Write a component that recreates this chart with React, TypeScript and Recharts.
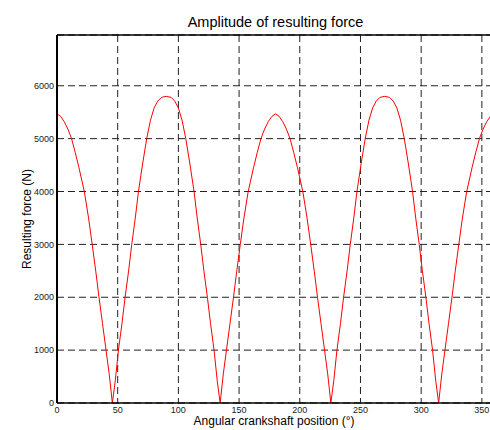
import React from "react";
import { LineChart, Line, XAxis, YAxis, CartesianGrid, ReferenceLine } from "recharts";

// Crankshaft angle (degrees)
const angles = [
  0, 3, 6, 9, 12, 15, 18, 22.5, 26, 29, 32, 34.6, 37.5, 40.4, 43, 45.6, 48, 50.6, 53.5, 56.1,
  59, 61.6, 64.5, 67.1, 70.5, 73.9, 77, 80, 83, 86, 90,
  94, 97, 100, 103, 106.1, 109.5, 112.9, 115.5, 118.4, 121, 123.9, 126.5, 129.4, 132, 134.4,
  137, 139.6, 142.5, 145.4, 148, 151, 154, 157.5, 162, 165, 168, 171, 174, 177, 180,
  183, 186, 189, 192, 195, 198, 202.5, 206, 209, 212, 214.6, 217.5, 220.4, 223, 225.6, 228,
  230.6, 233.5, 236.1, 239, 241.6, 244.5, 247.1, 250.5, 253.9, 257, 260, 263, 266, 270,
  274, 277, 280, 283, 286.1, 289.5, 292.9, 295.5, 298.4, 301, 303.9, 306.5, 309.4, 312, 314.4,
  317, 319.6, 322.5, 325.4, 328, 331, 334, 337.5, 342, 345, 348, 351, 354, 357, 360,
];

// Resulting force (N)
const forces = [
  5470, 5420, 5320, 5180, 5000, 4740, 4460, 4000, 3500, 3000, 2480, 2000, 1500, 1000, 550, 0, 420, 1000, 1500, 2000,
  2500, 3000, 3500, 4000, 4520, 5000, 5350, 5580, 5710, 5780, 5800,
  5780, 5710, 5580, 5350, 5000, 4520, 4000, 3500, 3000, 2500, 2000, 1500, 1000, 420, 0,
  550, 1000, 1500, 2000, 2480, 3000, 3500, 4000, 4460, 4740, 5000, 5180, 5320, 5420, 5470,
  5420, 5320, 5180, 5000, 4740, 4460, 4000, 3500, 3000, 2480, 2000, 1500, 1000, 550, 0, 420,
  1000, 1500, 2000, 2500, 3000, 3500, 4000, 4520, 5000, 5350, 5580, 5710, 5780, 5800,
  5780, 5710, 5580, 5350, 5000, 4520, 4000, 3500, 3000, 2500, 2000, 1500, 1000, 420, 0,
  550, 1000, 1500, 2000, 2480, 3000, 3500, 4000, 4460, 4740, 5000, 5180, 5320, 5420, 5470,
];

const xTicks = [0, 50, 100, 150, 200, 250, 300, 350];
const yTicks = [0, 1000, 2000, 3000, 4000, 5000, 6000];

const title = "Amplitude of resulting force";
const xLabel = "Angular crankshaft position (°)";
const yLabel = "Resulting force (N)";

const data = angles.map((a, i) => ({ angle: a, force: forces[i] }));

const FONT = "'Liberation Sans', Arial, Helvetica, sans-serif";
const Y_MAX = 6960;

export default function App() {
  const tickStyle = { fontSize: 9, fill: "#222", fontFamily: FONT };
  return (
    <div
      style={{
        position: "absolute",
        left: 0,
        top: 0,
        width: 490,
        height: 430,
        overflow: "hidden",
        background: "#fff",
      }}
    >
      <LineChart
        width={510}
        height={430}
        data={data}
        margin={{ top: 35, right: 16, left: 0, bottom: 0 }}
      >
        <CartesianGrid stroke="#222" strokeDasharray="7 4" strokeWidth={1} />
        <XAxis
          dataKey="angle"
          type="number"
          domain={[0, 360]}
          ticks={xTicks}
          interval={0}
          allowDataOverflow
          height={27}
          tickLine={false}
          tickSize={0}
          tickMargin={4}
          axisLine={{ stroke: "#000", strokeWidth: 1.5 }}
          tick={tickStyle}
        />
        <YAxis
          type="number"
          domain={[0, Y_MAX]}
          ticks={yTicks}
          interval={0}
          allowDataOverflow
          width={57}
          tickLine={false}
          tickSize={0}
          tickMargin={3}
          axisLine={{ stroke: "#000", strokeWidth: 2 }}
          tick={tickStyle}
        />
        <ReferenceLine y={Y_MAX} stroke="#000" strokeWidth={1.5} />
        <Line
          type="linear"
          dataKey="force"
          stroke="#ff0000"
          strokeWidth={1}
          dot={false}
          isAnimationActive={false}
        />
      </LineChart>
      <svg
        width={490}
        height={430}
        style={{ position: "absolute", left: 0, top: 0, pointerEvents: "none" }}
      >
        <text x={275.5} y={26.5} textAnchor="middle" fontSize={14.5} fontFamily={FONT} fill="#000">
          {title}
        </text>
        <text x={274} y={425} textAnchor="middle" fontSize={12} fontFamily={FONT} fill="#000">
          {xLabel}
        </text>
        <text
          x={31}
          y={219}
          textAnchor="middle"
          fontSize={12}
          fontFamily={FONT}
          fill="#000"
          transform="rotate(-90 31 219)"
        >
          {yLabel}
        </text>
      </svg>
    </div>
  );
}
